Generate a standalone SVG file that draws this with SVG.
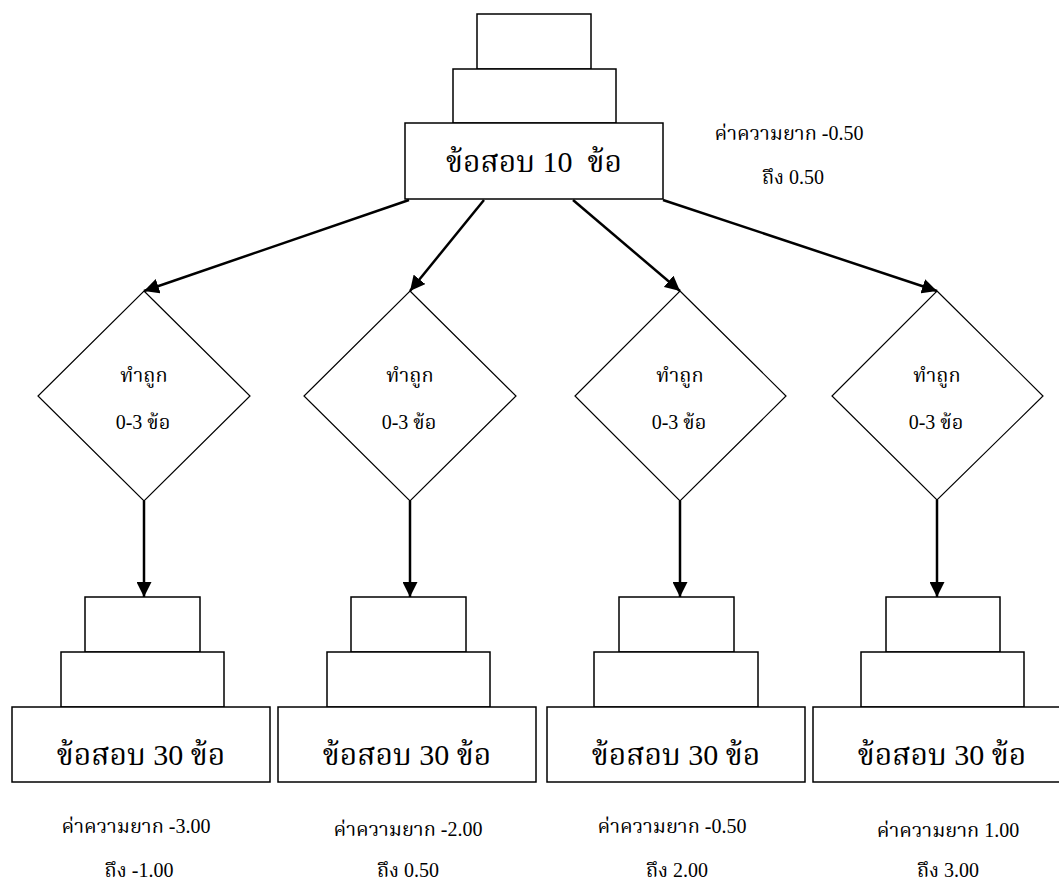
<svg xmlns="http://www.w3.org/2000/svg" width="1059" height="883" viewBox="0 0 1059 883">
<style>
.box{fill:#fff;stroke:#000;stroke-width:1.5}
.dia{fill:#fff;stroke:#000;stroke-width:1.2}
.conn{stroke:#000;stroke-width:2.5;fill:none;marker-end:url(#arr)}
text{font-family:"Liberation Serif","Noto Serif Thai","Noto Sans Thai",serif;fill:#000;text-anchor:middle}
.big{font-size:30px}
.sm{font-size:20px}
</style>
<defs>
<marker id="arr" viewBox="0 0 10 10" refX="10" refY="5" markerWidth="6" markerHeight="6" markerUnits="strokeWidth" orient="auto">
<path d="M0,0 L10,5 L0,10 z" fill="#000"/>
</marker>
</defs>
<rect width="1059" height="883" fill="#fff"/>
<g id="top">
<rect class="box" x="477" y="14" width="114" height="55"/>
<rect class="box" x="453" y="69" width="163" height="54"/>
<rect class="box" x="405" y="123" width="258" height="76"/>
<text class="big" x="534" y="172">ข้อสอบ 10&#160; ข้อ</text>
</g>
<g id="top-label">
<text class="sm" x="789" y="140">ค่าความยาก -0.50</text>
<text class="sm" x="793" y="184">ถึง 0.50</text>
</g>
<g id="d1"><polygon class="dia" points="144,291 250,396 144,501 38,396"/><text class="sm" x="144" y="382">ทำถูก</text><text class="sm" x="143" y="429">0-3 ข้อ</text></g>
<g id="d2"><polygon class="dia" points="410,291 516,396 410,501 304,396"/><text class="sm" x="410" y="382">ทำถูก</text><text class="sm" x="409" y="429">0-3 ข้อ</text></g>
<g id="d3"><polygon class="dia" points="680,291 786,396 680,501 575,396"/><text class="sm" x="680" y="382">ทำถูก</text><text class="sm" x="679" y="429">0-3 ข้อ</text></g>
<g id="d4"><polygon class="dia" points="937,291 1043,396 937,500 832,396"/><text class="sm" x="937" y="382">ทำถูก</text><text class="sm" x="936" y="429">0-3 ข้อ</text></g>
<g id="b1">
<rect class="box" x="85" y="597" width="115" height="55"/>
<rect class="box" x="61" y="652" width="163" height="55"/>
<rect class="box" x="12" y="707" width="258" height="75"/>
<text class="big" x="141" y="765">ข้อสอบ 30 ข้อ</text>
<text class="sm" x="136" y="833">ค่าความยาก -3.00</text>
<text class="sm" x="139" y="877">ถึง -1.00</text>
</g>
<g id="b2">
<rect class="box" x="351" y="597" width="115" height="55"/>
<rect class="box" x="327" y="652" width="163" height="55"/>
<rect class="box" x="278" y="707" width="258" height="75"/>
<text class="big" x="407" y="765">ข้อสอบ 30 ข้อ</text>
<text class="sm" x="408" y="836">ค่าความยาก -2.00</text>
<text class="sm" x="408" y="877">ถึง 0.50</text>
</g>
<g id="b3">
<rect class="box" x="619" y="597" width="115" height="55"/>
<rect class="box" x="594" y="652" width="164" height="55"/>
<rect class="box" x="547" y="707" width="258" height="75"/>
<text class="big" x="676" y="765">ข้อสอบ 30 ข้อ</text>
<text class="sm" x="672" y="833">ค่าความยาก -0.50</text>
<text class="sm" x="677" y="877">ถึง 2.00</text>
</g>
<g id="b4">
<rect class="box" x="886" y="597" width="114" height="55"/>
<rect class="box" x="861" y="652" width="163" height="55"/>
<rect class="box" x="813" y="707" width="258" height="75"/>
<text class="big" x="942" y="765">ข้อสอบ 30 ข้อ</text>
<text class="sm" x="948" y="837">ค่าความยาก 1.00</text>
<text class="sm" x="948" y="877">ถึง 3.00</text>
</g>
<g id="connectors">
<line class="conn" x1="409" y1="200" x2="144" y2="291"/>
<line class="conn" x1="484" y1="200" x2="410" y2="291"/>
<line class="conn" x1="573" y1="200" x2="680" y2="291"/>
<line class="conn" x1="663" y1="200" x2="937" y2="291"/>
<line class="conn" x1="144" y1="501" x2="144" y2="597"/>
<line class="conn" x1="410" y1="501" x2="410" y2="597"/>
<line class="conn" x1="680" y1="501" x2="680" y2="597"/>
<line class="conn" x1="937" y1="500" x2="937" y2="597"/>
</g>
</svg>
